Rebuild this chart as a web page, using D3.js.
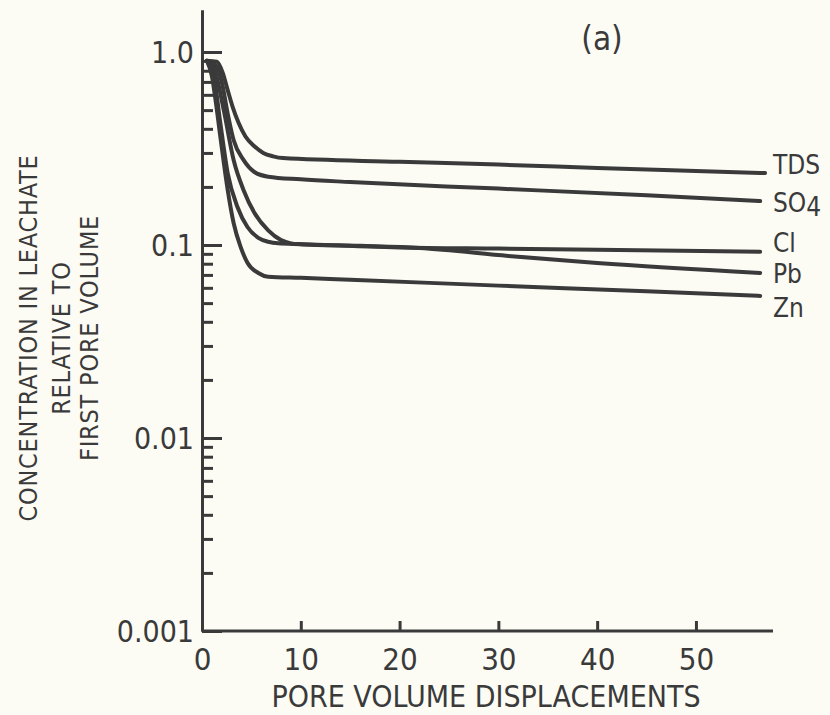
<!DOCTYPE html>
<html>
<head>
<meta charset="utf-8">
<script src="https://cdn.jsdelivr.net/npm/d3@7"></script>
<style>
  html, body { margin: 0; padding: 0; background: #fcfcf5; }
  svg { display: block; }
  text { font-family: "Liberation Sans Narrow", "DejaVu Sans Condensed", "Liberation Sans", sans-serif; fill: #3a3a3a; }
</style>
</head>
<body>
<svg id="chart" width="830" height="715"></svg>
<script>
// Leachate concentration relative to the first pore volume, per constituent
const seriesNames = ["TDS", "SO4", "Cl", "Pb", "Zn"];

const tdsPV   = [0.5, 1.5, 2.1, 2.6, 3.1, 3.7, 4.4, 5.3, 6.2, 7.2, 8.2, 20, 30, 40, 50, 57];
const tdsConc = [0.9, 0.89, 0.78, 0.635, 0.52, 0.43, 0.365, 0.325, 0.30, 0.288, 0.282, 0.270, 0.261, 0.251, 0.242, 0.236];

const so4PV   = [0.5, 1.4, 2.0, 2.6, 3.2, 4.2, 5.3, 6.7, 10, 15, 30, 45, 56.5];
const so4Conc = [0.9, 0.85, 0.7, 0.48, 0.35, 0.276, 0.239, 0.226, 0.219, 0.212, 0.196, 0.181, 0.169];

const clPV    = [0.5, 1.2, 1.8, 2.6, 3.6, 4.6, 5.7, 6.7, 7.7, 10, 20, 30, 40, 56.5];
const clConc  = [0.9, 0.75, 0.45, 0.236, 0.157, 0.124, 0.109, 0.104, 0.102, 0.101, 0.0971, 0.0958, 0.0946, 0.0922];

const pbPV    = [0.5, 1.3, 2.2, 3.2, 4.2, 5.3, 6.7, 8.0, 9.0, 10, 16, 22, 31, 40, 56.5];
const pbConc  = [0.9, 0.8, 0.5, 0.276, 0.193, 0.147, 0.119, 0.106, 0.102, 0.101, 0.099, 0.0965, 0.0878, 0.0807, 0.0717];

const znPV    = [0.5, 1.0, 1.4, 1.9, 2.6, 3.2, 3.9, 4.6, 5.7, 6.7, 10, 15, 30, 45, 56.5];
const znConc  = [0.9, 0.75, 0.55, 0.35, 0.193, 0.13, 0.098, 0.081, 0.0716, 0.0685, 0.0676, 0.0661, 0.0616, 0.0576, 0.0545];

const xTickValues = [0, 10, 20, 30, 40, 50];
const yMajorTicks = [0.001, 0.01, 0.1, 1];
const yMajorLabels = ["0.001", "0.01", "0.1", "1.0"];
const yTitleLines = ["CONCENTRATION IN LEACHATE", "RELATIVE TO", "FIRST PORE VOLUME"];
const xTitle = "PORE VOLUME DISPLACEMENTS";
const panelTag = "(a)";

const seriesData = [
  [tdsPV, tdsConc], [so4PV, so4Conc], [clPV, clConc], [pbPV, pbConc], [znPV, znConc]
].map(([pv, c], i) => ({ name: seriesNames[i], pts: pv.map((p, j) => ({ pv: p, c: c[j] })) }));

// ---- layout ----
const ink = "#3a3a3a";
const svg = d3.select("#chart");
const x = d3.scaleLinear().domain([0, 57.8]).range([202, 773]);
const y = d3.scaleLog().domain([0.001, 1.651]).range([631, 10]);

// y axis: minor ticks, then major ticks with labels
const minorTicks = y.ticks().filter(v => !yMajorTicks.some(m => Math.abs(m - v) / m < 1e-6));
const gyMinor = svg.append("g").attr("transform", `translate(${x(0)},0)`)
  .call(d3.axisLeft(y).tickValues(minorTicks).tickSize(-11).tickSizeOuter(0).tickFormat(""));
const gy = svg.append("g").attr("transform", `translate(${x(0)},0)`)
  .call(d3.axisLeft(y).tickValues(yMajorTicks).tickSize(-20).tickSizeOuter(0).tickPadding(8)
    .tickFormat((d, i) => yMajorLabels[i]));
[gyMinor, gy].forEach(g => {
  g.selectAll("path, line").attr("stroke", ink).attr("stroke-width", 3);
});
gy.selectAll("text").attr("font-size", 30).attr("fill", ink).attr("dy", "0.36em");

// x axis with inward ticks
const gx = svg.append("g").attr("transform", `translate(0,${y(0.001)})`)
  .call(d3.axisBottom(x).tickValues(xTickValues).tickSize(-10).tickSizeOuter(0).tickPadding(17));
gx.selectAll("path, line").attr("stroke", ink).attr("stroke-width", 3);
gx.select(".domain").attr("d", `M${x(0)},0H${x(57.8)}`);
gx.selectAll("text").attr("font-size", 31).attr("fill", ink);

// curves
const line = d3.line().x(d => x(d.pv)).y(d => y(d.c)).curve(d3.curveMonotoneX);
svg.append("g").selectAll("path").data(seriesData).join("path")
  .attr("d", d => line(d.pts))
  .attr("fill", "none").attr("stroke", ink).attr("stroke-width", 4)
  .attr("stroke-linecap", "round").attr("stroke-linejoin", "round");

// series labels at the right-hand end of each curve
const labelNudge = [-8, 2, -9, 1, 12];
const labels = svg.append("g").selectAll("text").data(seriesData).join("text")
  .attr("x", 773)
  .attr("y", (d, i) => y(d.pts[d.pts.length - 1].c) + labelNudge[i])
  .attr("dy", "0.36em")
  .attr("font-size", 26);
labels.each(function (d) {
  const t = d3.select(this);
  if (d.name === "SO4") {
    t.append("tspan").text("SO");
    t.append("tspan").attr("dy", 4).text("4");
  } else {
    t.text(d.name);
  }
});

// y title, three rotated lines
const yTitle = svg.append("text").attr("transform", "translate(0,338) rotate(-90)")
  .attr("text-anchor", "middle").attr("font-size", 25).attr("letter-spacing", 0.8);
yTitleLines.forEach((s, i) => {
  yTitle.append("tspan").attr("x", 0).attr("y", [37, 70, 98][i]).text(s);
});

// x title
svg.append("text").attr("x", 486).attr("y", 707).attr("text-anchor", "middle")
  .attr("font-size", 30).text(xTitle);

// panel tag
svg.append("text").attr("x", 602).attr("y", 50).attr("text-anchor", "middle")
  .attr("font-size", 33).text(panelTag);
</script>
</body>
</html>
